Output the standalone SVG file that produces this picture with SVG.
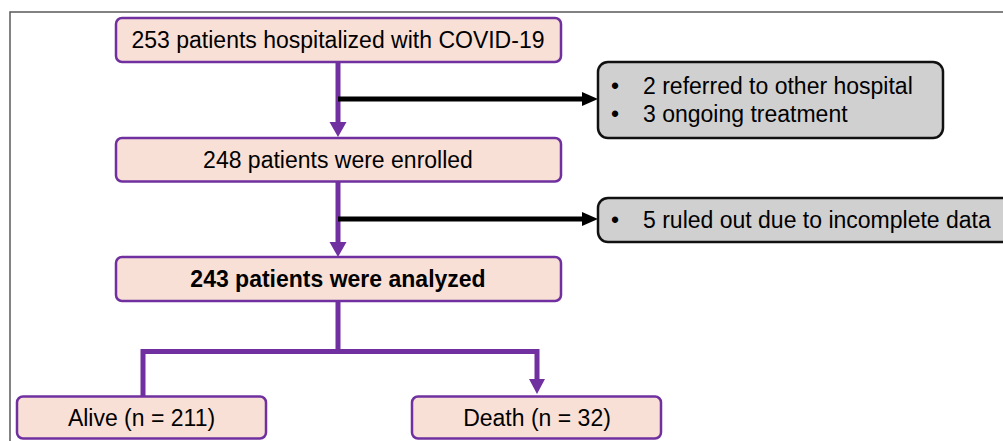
<svg xmlns="http://www.w3.org/2000/svg" width="1003" height="441" viewBox="0 0 1003 441">
  <style>
    .pbox { fill: #f9e0d6; stroke: #7030a0; stroke-width: 2.5; }
    .gbox { fill: #d0d0d0; stroke: #111111; stroke-width: 2.5; }
    .t { font-family: "Liberation Sans", Arial, sans-serif; font-size: 23px; fill: #000; }
    .c { text-anchor: middle; }
    .b { font-weight: bold; }
    .pl { stroke: #7030a0; stroke-width: 5; fill: none; }
    .bl { stroke: #000; stroke-width: 5; fill: none; }
    .ph { fill: #7030a0; }
    .bh { fill: #000; }
  </style>
  <rect x="0" y="0" width="1003" height="441" fill="#ffffff"/>
  <g id="frame">
    <path d="M10,441 V12 H1003" fill="none" stroke="#5a5a5a" stroke-width="1.5"/>
  </g>

  <g id="connectors">
    <line class="pl" x1="338" y1="62" x2="338" y2="123"/>
    <polygon class="ph" points="329.5,122 346.5,122 338,137"/>
    <line class="bl" x1="338" y1="99" x2="583" y2="99"/>
    <polygon class="bh" points="582,92 598,99 582,106"/>

    <line class="pl" x1="338" y1="181" x2="338" y2="243"/>
    <polygon class="ph" points="329.5,242 346.5,242 338,257"/>
    <line class="bl" x1="338" y1="219" x2="583" y2="219"/>
    <polygon class="bh" points="582,212 598,219 582,226"/>

    <path class="pl" d="M338,301 V351.5 M143,397 V351.5 H537 V380" stroke-linejoin="miter"/>
    <polygon class="ph" points="529,379 545,379 537,394"/>
  </g>

  <g id="n1">
    <rect class="pbox" x="116" y="18" width="445" height="44" rx="6"/>
    <text class="t c" x="338" y="48">253 patients hospitalized with COVID-19</text>
  </g>
  <g id="n2">
    <rect class="pbox" x="116" y="138" width="445" height="43.5" rx="6"/>
    <text class="t c" x="338" y="167.5">248 patients were enrolled</text>
  </g>
  <g id="n3">
    <rect class="pbox" x="116" y="257" width="445" height="44" rx="6"/>
    <text class="t c b" x="338" y="287">243 patients were analyzed</text>
  </g>
  <g id="ex1">
    <rect class="gbox" x="598" y="62" width="345" height="76" rx="10"/>
    <text class="t c" x="615" y="94">•</text>
    <text class="t" x="643" y="94">2 referred to other hospital</text>
    <text class="t c" x="615" y="122">•</text>
    <text class="t" x="643" y="122">3 ongoing treatment</text>
  </g>
  <g id="ex2">
    <rect class="gbox" x="598" y="198" width="420" height="44" rx="10"/>
    <text class="t c" x="615" y="228">•</text>
    <text class="t" x="643" y="228">5 ruled out due to incomplete data</text>
  </g>
  <g id="alive">
    <rect class="pbox" x="17" y="396.5" width="249" height="42" rx="6"/>
    <text class="t c" x="141.5" y="426">Alive (n = 211)</text>
  </g>
  <g id="death">
    <rect class="pbox" x="412" y="396.5" width="249" height="42" rx="6"/>
    <text class="t c" x="537" y="426">Death (n = 32)</text>
  </g>
</svg>
